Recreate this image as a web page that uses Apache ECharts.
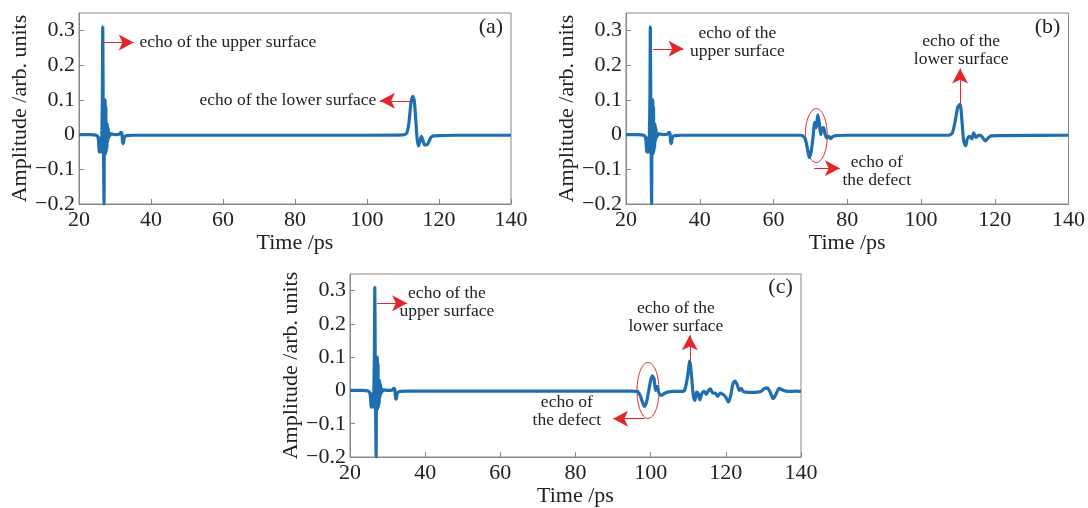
<!DOCTYPE html>
<html>
<head>
<meta charset="utf-8">
<script src="https://cdn.jsdelivr.net/npm/echarts@6/dist/echarts.min.js"></script>
<style>
  html, body { margin: 0; padding: 0; background: #fff; }
  #main { width: 1088px; height: 508px; }
</style>
</head>
<body>
<div id="main"></div>
<script>
// echo of the upper surface (same in all three panels)
const pulseT = [20, 23, 25, 25.4, 25.6, 25.75, 25.9, 26.05, 26.2, 26.35,
  26.5, 26.6, 26.72, 26.85, 26.95, 27.05, 27.15, 27.25, 27.35, 27.45,
  27.55, 27.65, 27.75, 27.85, 27.95, 28.1, 28.25, 28.4, 28.6, 29,
  30, 31.2, 31.6, 31.9, 32.1, 32.3, 32.6, 33.2, 35];
const pulseV = [0, 0, -0.003, -0.015, -0.05, -0.01, -0.05, -0.015, -0.05, 0.0,
  0.12, 0.31, 0.08, -0.1, -0.2, 0.0, -0.04, 0.1, -0.055, 0.08,
  -0.05, 0.03, -0.04, 0.03, -0.02, 0.02, -0.01, 0.005, -0.003, 0.002,
  0, 0.001, 0.006, 0.004, -0.02, -0.026, -0.008, -0.003, -0.002];

// (a) lower surface echo
const tailAT = [60, 100, 110, 111, 111.6, 112.2, 112.7, 113.1, 113.5, 113.9,
  114.3, 114.7, 115.1, 115.5, 116.0, 116.6, 117.2, 117.8, 118.5, 120,
  125, 140];
const tailAV = [-0.002, -0.002, -0.001, 0.004, 0.03, 0.09, 0.11, 0.1, 0.05, -0.01,
  -0.033, -0.02, -0.005, -0.015, -0.03, -0.03, -0.02, -0.008, -0.004, -0.003,
  -0.002, -0.002];

// (b) defect echo + lower surface echo
const tailBT = [60, 67.5, 68.5, 69.2, 69.7, 70.2, 70.7, 71.2, 71.6, 72.0,
  72.4, 72.8, 73.2, 73.6, 74.0, 74.5, 75.0, 75.5, 76.0, 77,
  80, 100, 107.5, 108.5, 109.3, 110, 110.6, 111.1, 111.6, 112.1,
  112.6, 113.2, 113.8, 114.3, 114.9, 115.5, 116.2, 116.8, 117.4, 118.2,
  119, 121, 140];
const tailBV = [-0.002, -0.002, -0.01, -0.04, -0.066, -0.05, -0.01, 0.035, 0.02, 0.057,
  0.035, 0.0, 0.018, 0.02, 0.0, -0.01, -0.005, -0.012, -0.006, -0.003,
  -0.002, -0.002, -0.002, 0.005, 0.04, 0.08, 0.087, 0.04, -0.02, -0.032,
  -0.012, -0.005, -0.012, 0.005, -0.008, -0.003, -0.002, -0.01, -0.018, -0.01,
  -0.004, -0.003, -0.002];

// (c) defect echo + lower surface echo + ringing
const tailCT = [60, 95, 96.5, 97.2, 97.8, 98.3, 98.9, 99.5, 100.0, 100.4,
  100.9, 101.3, 101.7, 102.1, 102.8, 103.5, 104.5, 106, 108, 109,
  109.8, 110.4, 110.9, 111.4, 111.8, 112.2, 112.6, 113.1, 113.6, 114.2,
  114.8, 115.4, 115.9, 116.5, 117.2, 117.8, 118.5, 119.3, 120.0, 120.7,
  121.3, 121.9, 122.4, 123.0, 123.6, 124.1, 124.6, 125.3, 126.5, 128.5,
  129.5, 130.3, 131, 131.8, 132.6, 133.4, 134.2, 135, 136, 137,
  138.5, 140];
const tailCV = [-0.002, -0.002, -0.003, -0.015, -0.035, -0.048, -0.035, 0.0, 0.03, 0.044,
  0.035, 0.0, 0.012, -0.005, -0.015, -0.01, -0.005, -0.003, -0.003, 0.0,
  0.04, 0.088, 0.04, -0.02, -0.03, -0.005, -0.008, -0.028, -0.01, -0.003,
  -0.012, 0.0, 0.005, -0.008, -0.008, -0.018, -0.008, -0.012, -0.02, -0.035,
  -0.015, 0.02, 0.028, 0.018, 0.0, 0.006, -0.003, -0.005, -0.006, -0.005,
  -0.002, 0.006, 0.008, -0.005, -0.025, -0.01, 0.006, 0.002, -0.002, -0.003,
  -0.002, -0.003];

const panelLabels = ['(a)', '(b)', '(c)'];
const serif = '"Liberation Serif", "DejaVu Serif", serif';
const lineColor = '#1f6fb0';
const red = '#e3262b';

function pairs(ts, vs) {
  return ts.map((t, i) => [t, vs[i]]);
}

const dataA = pairs(pulseT, pulseV).concat(pairs(tailAT, tailAV));
const dataB = pairs(pulseT, pulseV).concat(pairs(tailBT, tailBV));
const dataC = pairs(pulseT, pulseV).concat(pairs(tailCT, tailCV));

function fmtY(v) {
  const r = Math.round(v * 10) / 10;
  if (r === 0) return '0';
  return (r < 0 ? '\u2212' : '') + Math.abs(r).toFixed(1);
}

function xAxisFor(i) {
  return {
    type: 'value', gridIndex: i, min: 20, max: 140, interval: 20,
    name: 'Time /ps', nameLocation: 'middle', nameGap: 28,
    nameTextStyle: { fontFamily: serif, fontSize: 22, color: '#222' },
    axisLine: { show: true, onZero: false, lineStyle: { color: '#888' } },
    axisTick: { show: true, inside: true, length: 5, lineStyle: { color: '#888' } },
    splitLine: { show: false },
    axisLabel: { fontFamily: serif, fontSize: 22, color: '#222', margin: 5 }
  };
}

function yAxisFor(i) {
  return {
    type: 'value', gridIndex: i, min: -0.2, max: 0.35, interval: 0.1,
    name: 'Amplitude /arb. units', nameLocation: 'middle', nameGap: 45,
    nameTextStyle: { fontFamily: serif, fontSize: 22, color: '#222' },
    axisLine: { show: true, onZero: false, lineStyle: { color: '#888' } },
    axisTick: { show: true, inside: true, length: 5, lineStyle: { color: '#888' } },
    splitLine: { show: false },
    axisLabel: { showMaxLabel: false, fontFamily: serif, fontSize: 22, color: '#222',
      margin: 4, formatter: fmtY }
  };
}

// arrows as mark lines, in data coordinates
function arrows(list) {
  return {
    silent: true,
    symbol: ['none', 'arrow'],
    symbolSize: [12, 15],
    label: { show: false },
    lineStyle: { color: red, width: 1, type: 'solid' },
    itemStyle: { color: red },
    emphasis: { disabled: true },
    data: list.map(a => [{ coord: a[0] }, { coord: a[1] }])
  };
}

const arrowsA = [[[26.9, 0.265], [35.2, 0.265]], [[112.4, 0.097], [103.6, 0.097]]];
const arrowsB = [[[27.3, 0.247], [35.6, 0.247]], [[110.6, 0.09], [110.6, 0.19]], [[71.0, -0.097], [78.0, -0.097]]];
const arrowsC = [[[27.2, 0.262], [35.2, 0.262]], [[110.4, 0.09], [110.4, 0.166]], [[98.4, -0.085], [90.0, -0.085]]];

function lineSeries(i, data, arr) {
  return {
    type: 'line', xAxisIndex: i, yAxisIndex: i, data: data,
    showSymbol: false, smooth: 0.25, silent: true,
    lineStyle: { width: 3.2, color: lineColor },
    markLine: arrows(arr)
  };
}

const chart = echarts.init(document.getElementById('main'));
const gridStyle = { show: true, borderColor: '#888', borderWidth: 1, backgroundColor: 'transparent' };

chart.setOption({
  animation: false,
  grid: [
    Object.assign({ left: 79, top: 13, width: 432, height: 191 }, gridStyle),
    Object.assign({ left: 626, top: 13, width: 445, height: 191 }, gridStyle),
    Object.assign({ left: 350, top: 274, width: 451, height: 184 }, gridStyle)
  ],
  xAxis: [xAxisFor(0), xAxisFor(1), xAxisFor(2)],
  yAxis: [yAxisFor(0), yAxisFor(1), yAxisFor(2)],
  series: [
    lineSeries(0, dataA, arrowsA),
    lineSeries(1, dataB, arrowsB),
    lineSeries(2, dataC, arrowsC)
  ]
});

// annotation texts and ellipses placed from data coordinates
function px(g, pt) {
  return chart.convertToPixel({ gridIndex: g }, pt);
}

function text(g, pt, str, align) {
  const p = px(g, pt);
  return {
    type: 'text', silent: true, x: p[0], y: p[1],
    style: { text: str, font: '17.5px ' + serif, fill: '#222', align: align || 'center',
      verticalAlign: 'middle', lineHeight: 18 }
  };
}

function ellipse(g, pt, rx, ry) {
  const p = px(g, pt);
  return {
    type: 'ellipse', silent: true,
    shape: { cx: p[0], cy: p[1], rx: rx, ry: ry },
    style: { fill: 'none', stroke: red, lineWidth: 1 }
  };
}

function label(g) {
  const p = px(g, [137.8, 0.31]);
  return {
    type: 'text', silent: true, x: p[0], y: p[1],
    style: { text: panelLabels[g], font: '22px ' + serif, fill: '#222', align: 'right', verticalAlign: 'middle' }
  };
}

chart.setOption({
  graphic: [
    label(0), label(1), label(2),
    text(0, [36.8, 0.265], 'echo of the upper surface', 'left'),
    text(0, [102.6, 0.097], 'echo of the lower surface', 'right'),
    text(1, [50.2, 0.265], 'echo of the\nupper surface'),
    text(1, [110.9, 0.243], 'echo of the\nlower surface'),
    text(1, [88.0, -0.106], 'echo of\nthe defect'),
    ellipse(1, [71.6, -0.003], 11, 27),
    text(2, [45.8, 0.265], 'echo of the\nupper surface'),
    text(2, [106.7, 0.221], 'echo of the\nlower surface'),
    text(2, [77.7, -0.062], 'echo of\nthe defect'),
    ellipse(2, [99.3, 0.0], 11, 28)
  ]
});
</script>
</body>
</html>
